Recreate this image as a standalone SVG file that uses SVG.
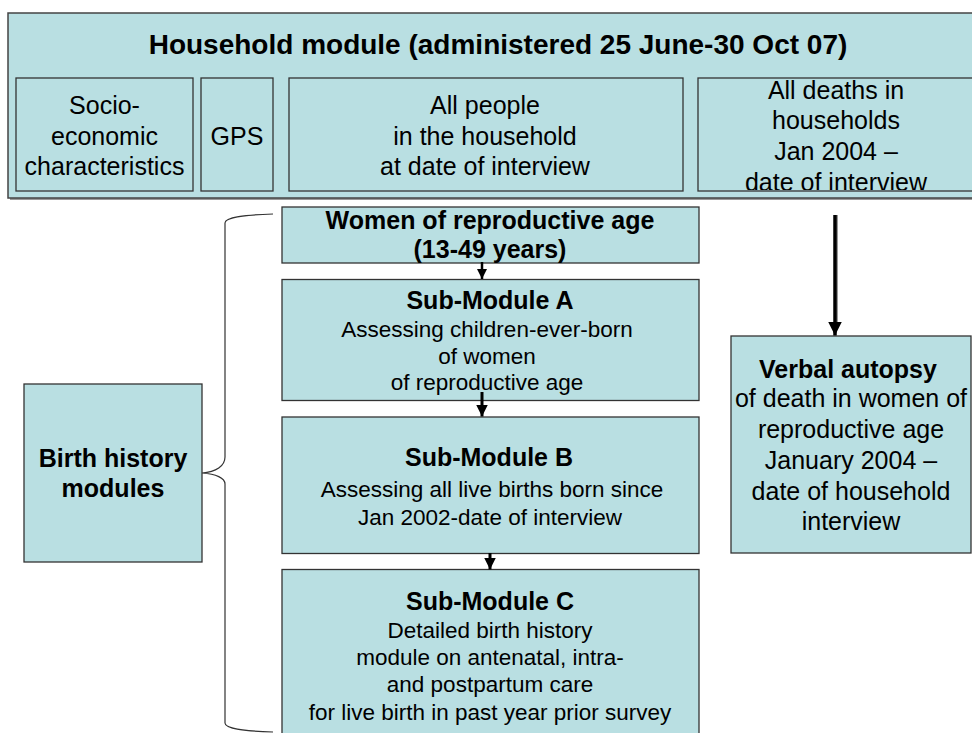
<svg xmlns="http://www.w3.org/2000/svg" width="972" height="733" viewBox="0 0 972 733">
  <style>
    .box { fill: #B9DFE2; stroke: #333333; stroke-width: 1.3; }
    .outer { fill: #B9DFE2; stroke: #444444; stroke-width: 1.5; }
    .shadow { fill: #999999; }
    text { font-family: "Liberation Sans", Arial, sans-serif; fill: #000000; text-anchor: middle; }
    .title { font-size: 28px; font-weight: bold; }
    .hd { font-size: 25px; font-weight: bold; }
    .big { font-size: 25px; }
    .sm { font-size: 22.5px; }
    .brace { fill: none; stroke: #333333; stroke-width: 1.2; }
    .shaft { stroke: #000000; fill: none; }
  </style>
  <defs>
    <marker id="head" viewBox="0 0 10 10" refX="10" refY="5" markerWidth="4" markerHeight="4" orient="auto" markerUnits="strokeWidth">
      <path d="M0,0 L10,5 L0,10 Z" fill="#000000"/>
    </marker>
    <clipPath id="deathsClip">
      <rect x="698" y="78" width="300" height="112"/>
    </clipPath>
  </defs>

  <rect width="972" height="733" fill="#FFFFFF"/>

  <!-- Household module container -->
  <g id="household">
    <rect class="shadow" x="10" y="15" width="975" height="185"/>
    <rect class="outer" x="8" y="13" width="975" height="185"/>
    <text class="title" x="498" y="54">Household module (administered 25 June-30 Oct 07)</text>
  </g>

  <g id="socio">
    <rect class="box" x="16" y="78" width="177" height="113"/>
    <text class="big" x="104.5" y="113.5">Socio-</text>
    <text class="big" x="104.5" y="144.5">economic</text>
    <text class="big" x="104.5" y="175">characteristics</text>
  </g>

  <g id="gps">
    <rect class="box" x="201" y="78" width="72" height="113"/>
    <text class="big" x="237" y="144.5">GPS</text>
  </g>

  <g id="people">
    <rect class="box" x="289" y="78" width="394" height="113"/>
    <text class="big" x="485" y="113.5">All people</text>
    <text class="big" x="485" y="144.5">in the household</text>
    <text class="big" x="485" y="175">at date of interview</text>
  </g>

  <g id="deaths">
    <rect x="698" y="78" width="300" height="113" fill="#B9DFE2"/>
    <g clip-path="url(#deathsClip)">
      <text class="big" x="836" y="98.5">All deaths in</text>
      <text class="big" x="836" y="129">households</text>
      <text class="big" x="836" y="159.5">Jan 2004 –</text>
      <text class="big" x="836" y="191">date of interview</text>
    </g>
    <rect x="698" y="78" width="300" height="113" fill="none" stroke="#333333" stroke-width="1.3"/>
  </g>

  <!-- Birth history chain -->
  <g id="women">
    <rect class="box" x="282" y="207" width="417" height="56"/>
    <text class="hd" x="490" y="228.5">Women of reproductive age</text>
    <text class="hd" x="490" y="258">(13-49 years)</text>
  </g>

  <g id="subA">
    <rect class="box" x="282" y="279.5" width="417" height="121"/>
    <text class="hd" x="490" y="309">Sub-Module A</text>
    <text class="sm" x="487" y="336.5">Assessing children-ever-born</text>
    <text class="sm" x="487" y="363.5">of women</text>
    <text class="sm" x="487" y="390">of reproductive age</text>
  </g>

  <g id="subB">
    <rect class="box" x="282" y="417" width="417" height="136.5"/>
    <text class="hd" x="489" y="466">Sub-Module B</text>
    <text class="sm" x="492" y="496.5">Assessing all live births born since</text>
    <text class="sm" x="490" y="525">Jan 2002-date of interview</text>
  </g>

  <g id="subC">
    <rect class="box" x="282" y="569.5" width="417" height="180"/>
    <text class="hd" x="490" y="610">Sub-Module C</text>
    <text class="sm" x="490" y="638">Detailed birth history</text>
    <text class="sm" x="490" y="665">module on antenatal, intra-</text>
    <text class="sm" x="490" y="691.5">and postpartum care</text>
    <text class="sm" x="490" y="720">for live birth in past year prior survey</text>
  </g>

  <g id="birthHistory">
    <rect class="box" x="24" y="384" width="178" height="178"/>
    <text class="hd" x="113" y="466.5">Birth history</text>
    <text class="hd" x="113" y="496.5">modules</text>
  </g>

  <g id="verbal">
    <rect class="box" x="731" y="336" width="240" height="217"/>
    <text class="hd" x="848" y="377.5">Verbal autopsy</text>
    <text class="big" x="851" y="407">of death in women of</text>
    <text class="big" x="851" y="438">reproductive age</text>
    <text class="big" x="851" y="469">January 2004 –</text>
    <text class="big" x="851" y="500">date of household</text>
    <text class="big" x="851" y="530">interview</text>
  </g>

  <!-- Connectors -->
  <g id="connectors">
    <path class="brace" d="M273,214 C245,215 225,217 225,223 L225,457 C225,466 216,472 202,473 C216,474 225,478 225,484 L225,723 C225,729 245,731 273,732"/>
    <line class="shaft" x1="482" y1="262" x2="482" y2="279" stroke-width="2.5" marker-end="url(#head)"/>
    <line class="shaft" x1="482" y1="392" x2="482" y2="416.5" stroke-width="3" marker-end="url(#head)"/>
    <line class="shaft" x1="490" y1="553" x2="490" y2="569.5" stroke-width="3" marker-end="url(#head)"/>
    <line x1="837" y1="215" x2="837" y2="323" stroke="#999999" stroke-width="2"/>
    <line class="shaft" x1="835" y1="215" x2="835" y2="335.5" stroke-width="3.5" marker-end="url(#head)"/>
  </g>
</svg>
